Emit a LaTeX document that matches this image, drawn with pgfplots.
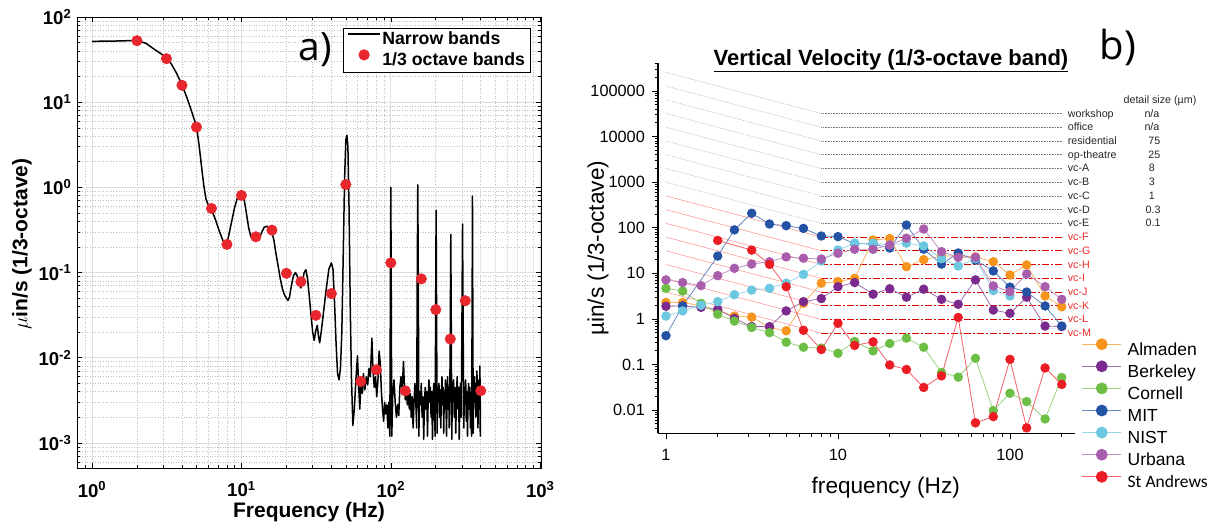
\documentclass[border=0pt]{standalone}
\usepackage{fontspec}
\setmainfont{Liberation Sans}
\newfontfamily\opensans{Open Sans}
\newfontfamily\carlito{Carlito}
\usepackage{pgfplots}
\pgfplotsset{compat=1.18}
\definecolor{cAlm}{HTML}{F7941D}
\definecolor{cBer}{HTML}{7B2A8E}
\definecolor{cCor}{HTML}{6DBE45}
\definecolor{cMIT}{HTML}{2452A5}
\definecolor{cNIS}{HTML}{6CC7E0}
\definecolor{cUrb}{HTML}{A95DAD}
\definecolor{cStA}{HTML}{EC1C24}
\definecolor{dotred}{HTML}{E8262D}
\definecolor{lblred}{HTML}{EE2A2A}
\newcommand{\fs}[1]{\fontsize{#1}{#1}\selectfont}
\pgfplotsset{
  gcrit/.style={forget plot, line width=0.6pt, densely dotted, black!35},
  gflat/.style={forget plot, line width=0.6pt, densely dotted, black!55},
  rcrit/.style={forget plot, line width=0.5pt, red!45},
  rflat/.style={forget plot, line width=0.7pt, red!85!black, dash pattern=on 7pt off 2pt on 2pt off 2pt},
  ser/.style={line width=0.8pt, draw=#1!70, mark=*, mark size=4.3pt, mark options={draw=#1, fill=#1, solid}},
}
\pgfplotstableread{
f v
2 52.7
3.15 32.4
4 15.8
5 5.1
6.3 0.566
8 0.214
10 0.805
12.5 0.263
16 0.315
20 0.098
25 0.078
31.5 0.0315
40 0.0566
50 1.08
63 0.00527
80 0.00722
100 0.130
125 0.00409
160 0.0843
200 0.0367
250 0.0166
315 0.0467
400 0.0041
}\thirdoct
\pgfplotstableread{
f v
1 51.8
1.2 52.0
1.5 52.3
1.8 52.8
2 53
2.3 49
2.6 42
2.9 37
3.15 33
3.4 28
3.7 21.5
4 16
4.3 11.5
4.6 8.2
5 5.2
5.2 3.2
5.4 1.8
5.6 1.05
5.8 0.72
6.05 0.6
6.3 0.55
6.7 0.42
7.1 0.31
7.5 0.24
7.8 0.21
8.1 0.24
8.5 0.36
9 0.58
9.5 0.8
9.9 0.9
10.3 0.82
10.7 0.55
11.2 0.33
11.6 0.26
12.0 0.245
12.5 0.255
13.0 0.24
13.6 0.29
14.2 0.34
14.8 0.35
15.4 0.33
16 0.30
16.5 0.24
17.0 0.17
17.6 0.12
18.2 0.085
18.8 0.065
19.4 0.055
20 0.05
20.5 0.047
21 0.052
21.6 0.07
22.3 0.092
23 0.1
23.7 0.09
24.4 0.072
25 0.066
25.6 0.078
26.3 0.1
27 0.108
27.7 0.085
28.4 0.055
29.2 0.032
30 0.02
30.7 0.016
31.5 0.021
32.2 0.024
32.8 0.018
33.4 0.015
34.2 0.02
35.5 0.035
37 0.065
38.5 0.11
40 0.13
41 0.11
42 0.045
43 0.015
44 0.0065
45 0.0055
46 0.0075
47 0.02
48 0.15
49 1.2
50 3.6
50.8 4.1
51.6 3.0
52.5 0.6
53.5 0.04
54.5 0.006
55.7 0.0016
57 0.0025
58.2 0.005
59.8 0.0105
61 0.0045
62 0.0025
63 0.0050
64.5 0.0038
65.5 0.0065
67 0.0042
68.5 0.0060
70 0.0048
71.5 0.0075
73 0.0060
74.7 0.0170
76 0.0070
77.5 0.0045
79 0.0060
80.5 0.0035
82 0.0055
83.5 0.0120
85 0.0085
86.5 0.0040
88 0.0025
89.5 0.0018
91 0.0030
92.5 0.0022
94 0.0028
95.5 0.0015
97 0.0030
98.5 0.0012
99.3 0.05
100 1.0
100.7 0.05
101.5 0.0012
103 0.0035
105 0.0055
107 0.0030
109 0.0020
111 0.0028
113 0.0021
115 0.0045
117 0.0060
119 0.0040
121.6 0.0090
123 0.0050
125 0.0032
127 0.0045
129 0.0028
131 0.0040
133 0.0025
135 0.0038
137 0.0020
139 0.0035
141 0.0015
143 0.0030
145 0.0050
147 0.0030
149 0.0015
150 0.05
151.5 1.07
153 0.05
154 0.0012
156 0.0040
158 0.0028
160 0.0050
162 0.0020
164 0.0035
166 0.0011
168 0.0030
170 0.0045
172 0.0025
174 0.0040
176 0.0012
178 0.0035
180 0.0055
182 0.0030
184 0.0045
186 0.0020
188 0.0040
190 0.0011
192 0.0035
194 0.0050
196 0.0025
198 0.0012
199.5 0.03
201 0.54
202.5 0.03
204 0.0013
206 0.0045
208 0.0030
210 0.0050
212 0.0020
214 0.0042
216 0.0015
218 0.0038
220 0.0060
222 0.0028
224 0.0045
226 0.0013
228 0.0040
230 0.0025
232 0.0055
234 0.0030
236 0.0012
238 0.0040
240 0.0060
242 0.0025
244 0.0045
246 0.0015
248 0.0030
250 0.02
252 0.28
254 0.02
256 0.0011
258 0.0040
260 0.0030
263 0.0055
266 0.0020
269 0.0045
272 0.0013
275 0.0035
278 0.0060
281 0.0025
284 0.0045
287 0.0011
290 0.0035
293 0.0050
296 0.0020
299 0.02
302 0.37
305 0.02
308 0.0015
311 0.0045
314 0.0028
317 0.0055
320 0.0018
323 0.0040
326 0.0012
329 0.0035
332 0.0050
335 0.0025
338 0.0045
341 0.0015
344 0.0035
347 0.0012
350 0.03
352 0.79
354 0.03
356 0.0013
359 0.0040
362 0.0060
365 0.0030
368 0.0050
371 0.0020
374 0.0045
377 0.0070
380 0.0035
383 0.0015
386 0.0040
389 0.0055
392 0.0025
395 0.0080
397 0.0012
398 0.0030
}\narrow
\begin{document}
\begin{tikzpicture}
\path[use as bounding box] (0pt,0pt) rectangle (1219pt,529pt);
%%%%%%%%%%%%%%%% panel a
\begin{axis}[
  at={(77pt,61pt)}, anchor=south west,
  scale only axis, width=464pt, height=451pt,
  xmode=log, ymode=log,
  xmin=0.7934, xmax=1012, ymin=5.08e-4, ymax=100,
  axis line style={line width=0.8pt},
  xtick={1,10,100,1000},
  xticklabels={10\textsuperscript{0},10\textsuperscript{1},10\textsuperscript{2},10\textsuperscript{3}},
  ytick={0.001,0.01,0.1,1,10,100},
  yticklabels={10\textsuperscript{-3},10\textsuperscript{-2},10\textsuperscript{-1},10\textsuperscript{0},10\textsuperscript{1},10\textsuperscript{2}},
  minor xtick={0.8,0.9,2,3,4,5,6,7,8,9,20,30,40,50,60,70,80,90,200,300,400,500,600,700,800,900},
  minor ytick={0.0006,0.0007,0.0008,0.0009,0.002,0.003,0.004,0.005,0.006,0.007,0.008,0.009,0.02,0.03,0.04,0.05,0.06,0.07,0.08,0.09,0.2,0.3,0.4,0.5,0.6,0.7,0.8,0.9,2,3,4,5,6,7,8,9,20,30,40,50,60,70,80,90},
  tick align=inside,
  major tick length=5pt, minor tick length=3pt,
  every tick/.append style={black, line width=0.6pt},
  grid=both,
  major grid style={line width=0.7pt, black!13},
  minor grid style={line width=0.6pt, black!25, dotted},
  ticklabel style={font=\bfseries\fs{18.6}},
  xticklabel style={inner sep=0pt, yshift=-13.5pt},
  yticklabel style={inner sep=0pt, xshift=-5.5pt},
  xlabel={Frequency (Hz)},
  ylabel={$\mu$in/s (1/3-octave)},
  label style={font=\bfseries\fs{21}},
  xlabel style={at={(axis description cs:0.5,-0.0969)}, anchor=center},
  ylabel style={at={(axis description cs:-0.1185,0.4967)}, anchor=center},
  legend style={at={(axis description cs:0.978,0.9756)}, anchor=north east, draw=black, line width=0.6pt, fill=white, font=\bfseries\fs{17.7}, inner xsep=4pt, inner ysep=2pt, row sep=0pt, nodes={inner sep=1.5pt, text height=12.8pt, text depth=3.5pt}},
  legend cell align=left,
  legend image code/.code={\draw[mark repeat=2,mark phase=2,#1] plot coordinates {(0pt,6pt) (16pt,6pt) (32pt,6pt)};},
]
\addplot[black, line width=1.5pt, line join=round] table[x=f,y=v] {\narrow};
\addlegendentry{Narrow bands}
\addplot[only marks, mark=*, mark size=5.3pt, color=dotred] table[x=f,y=v] {\thirdoct};
\addlegendentry{1/3 octave bands}
\end{axis}
\node[font=\opensans\fs{39}] at (315pt,479pt) {a)};
%%%%%%%%%%%%%%%% panel b
\begin{axis}[
  at={(658pt,95.7pt)}, anchor=south west,
  scale only axis, width=417pt, height=370pt,
  xmode=log, ymode=log,
  xmin=0.899, xmax=238.8, ymin=0.00311, ymax=4.05e5,
  axis lines=left,
  axis line style={line width=1.2pt, -},
  tick align=outside,
  xtick={1,10,100}, xticklabels={1,10,100},
  ytick={0.01,0.1,1,10,100,1000,10000,100000},
  yticklabels={0.01,0.1,1,10,100,1000,10000,100000},
  minor xtick={2,3,4,5,6,7,8,9,20,30,40,50,60,70,80,90,200},
  minor ytick={0.004,0.005,0.006,0.007,0.008,0.009,0.02,0.03,0.04,0.05,0.06,0.07,0.08,0.09,0.2,0.3,0.4,0.5,0.6,0.7,0.8,0.9,2,3,4,5,6,7,8,9,20,30,40,50,60,70,80,90,200,300,400,500,600,700,800,900,2000,3000,4000,5000,6000,7000,8000,9000,20000,30000,40000,50000,60000,70000,80000,90000,200000,300000,400000},
  major tick length=6pt, minor tick length=3.5pt,
  every tick/.append style={black, line width=0.8pt},
  ticklabel style={font=\fs{16.3}},
  xticklabel style={inner sep=0pt, yshift=-10pt},
  yticklabel style={inner sep=0pt, xshift=-7pt},
  clip=false,
  xlabel={frequency (Hz)},
  ylabel={µin/s (1/3-octave)},
  label style={font=\fs{22.6}},
  xlabel style={at={(axis description cs:0.5463,-0.1478)}, anchor=center},
  ylabel style={at={(axis description cs:-0.1439,0.5)}, anchor=center},
  legend style={at={(axis description cs:1.016,0.2562)}, anchor=north west, draw=none, fill=none, font=\fs{17.5}, inner sep=0pt, row sep=2.1pt, nodes={inner sep=0pt, text height=12.5pt, text depth=3.5pt}, /tikz/every odd column/.append style={column sep=6pt}},
  legend cell align=left,
  legend image code/.code={\draw[mark repeat=2,mark phase=2,#1] plot coordinates {(0pt,6.5pt) (19.5pt,6.5pt) (39pt,6.5pt)};},
  legend image post style={mark size=5.5pt},
]
% criterion curves (grey)
\addplot[gcrit] coordinates {(1,256000) (8,32000)};
\addplot[gflat] coordinates {(8,32000) (203,32000)};
\addplot[gcrit] coordinates {(1,128000) (8,16000)};
\addplot[gflat] coordinates {(8,16000) (203,16000)};
\addplot[gcrit] coordinates {(1,64000) (8,8000)};
\addplot[gflat] coordinates {(8,8000) (203,8000)};
\addplot[gcrit] coordinates {(1,32000) (8,4000)};
\addplot[gflat] coordinates {(8,4000) (203,4000)};
\addplot[gcrit] coordinates {(1,16000) (8,2000)};
\addplot[gflat] coordinates {(8,2000) (203,2000)};
\addplot[gcrit] coordinates {(1,8000) (8,1000)};
\addplot[gflat] coordinates {(8,1000) (203,1000)};
\addplot[gcrit] coordinates {(1,4000) (8,500)};
\addplot[gflat] coordinates {(8,500) (203,500)};
\addplot[gcrit] coordinates {(1,2000) (8,250)};
\addplot[gflat] coordinates {(8,250) (203,250)};
\addplot[gcrit] coordinates {(1,1000) (8,125)};
\addplot[gflat] coordinates {(8,125) (203,125)};
% criterion curves (red)
\addplot[rcrit] coordinates {(1,500) (8,62.5)};
\addplot[rflat] coordinates {(8,62.5) (203,62.5)};
\addplot[rcrit] coordinates {(1,250) (8,31.25)};
\addplot[rflat] coordinates {(8,31.25) (203,31.25)};
\addplot[rcrit] coordinates {(1,125) (8,15.625)};
\addplot[rflat] coordinates {(8,15.625) (203,15.625)};
\addplot[rcrit] coordinates {(1,62.5) (8,7.8125)};
\addplot[rflat] coordinates {(8,7.8125) (203,7.8125)};
\addplot[rcrit] coordinates {(1,31.25) (8,3.906)};
\addplot[rflat] coordinates {(8,3.906) (203,3.906)};
\addplot[rcrit] coordinates {(1,15.625) (8,1.953)};
\addplot[rflat] coordinates {(8,1.953) (203,1.953)};
\addplot[rcrit] coordinates {(1,7.8125) (8,0.9766)};
\addplot[rflat] coordinates {(8,0.9766) (203,0.9766)};
\addplot[rcrit] coordinates {(1,3.906) (8,0.4883)};
\addplot[rflat] coordinates {(8,0.4883) (203,0.4883)};
% data
\addplot[ser=cAlm] coordinates {(1,2.3)(1.25,2.3)(1.6,1.95)(2,1.55)(2.5,1.16)(3.15,1.1)(4,0.65)(5,0.55)(6.3,2.2)(8,6.1)(10,6.6)(12.5,7.8)(16,54)(20,58)(25,14)(31.5,20)(40,24)(50,24)(63,23)(80,18)(100,9.2)(125,15.3)(160,3.2)(200,1.85)};
\addlegendentry{Almaden}
\addplot[ser=cBer] coordinates {(1,1.9)(1.25,1.93)(1.6,1.8)(2,1.63)(2.5,1.03)(3.15,0.68)(4,0.68)(5,1.5)(6.3,2.4)(8,2.8)(10,5.1)(12.5,6.3)(16,3.5)(20,4.6)(25,3.0)(31.5,4.5)(40,2.7)(50,2.1)(63,7.2)(80,1.57)(100,1.33)(125,3.0)(160,0.70)(200,0.68)};
\addlegendentry{Berkeley}
\addplot[ser=cCor] coordinates {(1,4.7)(1.25,4.1)(1.6,2.2)(2,1.27)(2.5,0.9)(3.15,0.65)(4,0.5)(5,0.31)(6.3,0.24)(8,0.23)(10,0.177)(12.5,0.32)(16,0.2)(20,0.29)(25,0.38)(31.5,0.24)(40,0.067)(50,0.053)(63,0.137)(80,0.0098)(100,0.0235)(125,0.0154)(160,0.0064)(200,0.052)};
\addlegendentry{Cornell}
\addplot[ser=cMIT] coordinates {(1,0.43)(1.25,1.93)(2,24)(2.5,90)(3.15,208)(4,121)(5,111)(6.3,97)(8,66)(10,64)(12.5,45)(16,44)(20,36)(25,115)(31.5,34)(40,16)(50,28)(63,19.6)(80,11.3)(100,5.0)(125,3.9)(160,1.93)(200,0.70)};
\addlegendentry{MIT}
\addplot[ser=cNIS] coordinates {(1,1.16)(1.25,1.5)(1.6,2.0)(2,2.4)(2.5,3.4)(3.15,4.3)(4,4.7)(5,6.1)(6.3,9.5)(8,18.7)(10,32.6)(12.5,46)(16,46)(20,42)(25,46)(31.5,40)(40,21)(50,14.5)(63,21)(80,4.2)(100,3.2)};
\addlegendentry{NIST}
\addplot[ser=cUrb] coordinates {(1,7.2)(1.25,6.3)(1.6,5.4)(2,8.9)(2.5,12.9)(3.15,16)(4,18)(5,23)(6.3,21.5)(8,20.7)(10,27.6)(12.5,33.8)(16,33.8)(20,42)(25,59)(31.5,94)(40,30)(50,22.5)(63,22.5)(80,5.3)(100,4.0)(125,9.7)(160,5.1)(200,2.7)};
\addlegendentry{Urbana}
\addplot[ser=cStA] coordinates {(2,52.7)(3.15,32.4)(4,15.8)(5,5.1)(6.3,0.566)(8,0.214)(10,0.805)(12.5,0.263)(16,0.315)(20,0.098)(25,0.078)(31.5,0.0315)(40,0.0566)(50,1.08)(63,0.00527)(80,0.00722)(100,0.130)(125,0.00409)(160,0.0843)(200,0.0367)};
\addlegendentry{{\carlito St Andrews}}
% criterion labels
\begin{scope}[every node/.style={font=\fs{10.7}, inner sep=0pt, text=black!85}]
\node[anchor=base west, yshift=-3.5pt] at (axis cs:216.5,32000) {workshop};
\node[anchor=base west, yshift=-3.5pt] at (axis cs:216.5,16000) {office};
\node[anchor=base west, yshift=-3.5pt] at (axis cs:216.5,8000) {residential};
\node[anchor=base west, yshift=-3.5pt] at (axis cs:216.5,4000) {op-theatre};
\node[anchor=base west, yshift=-3.5pt] at (axis cs:216.5,2000) {vc-A};
\node[anchor=base west, yshift=-3.5pt] at (axis cs:216.5,1000) {vc-B};
\node[anchor=base west, yshift=-3.5pt] at (axis cs:216.5,500) {vc-C};
\node[anchor=base west, yshift=-3.5pt] at (axis cs:216.5,250) {vc-D};
\node[anchor=base west, yshift=-3.5pt] at (axis cs:216.5,125) {vc-E};
\node[anchor=base, yshift=-3.5pt] at (axis cs:669,32000) {n/a};
\node[anchor=base, yshift=-3.5pt] at (axis cs:669,16000) {n/a};
\node[anchor=base, yshift=-3.5pt] at (axis cs:690,8000) {75};
\node[anchor=base, yshift=-3.5pt] at (axis cs:690,4000) {25};
\node[anchor=base, yshift=-3.5pt] at (axis cs:669,2000) {8};
\node[anchor=base, yshift=-3.5pt] at (axis cs:669,1000) {3};
\node[anchor=base, yshift=-3.5pt] at (axis cs:669,500) {1};
\node[anchor=base, yshift=-3.5pt] at (axis cs:680,250) {0.3};
\node[anchor=base, yshift=-3.5pt] at (axis cs:680,125) {0.1};
\node[anchor=base, yshift=-3.8pt] at (axis cs:745,63500) {detail size (µm)};
\end{scope}
\begin{scope}[every node/.style={font=\fs{10.7}, inner sep=0pt, text=lblred}]
\node[anchor=base west, yshift=-3.5pt] at (axis cs:216.5,62.5) {vc-F};
\node[anchor=base west, yshift=-3.5pt] at (axis cs:216.5,31.25) {vc-G};
\node[anchor=base west, yshift=-3.5pt] at (axis cs:216.5,15.625) {vc-H};
\node[anchor=base west, yshift=-3.5pt] at (axis cs:216.5,7.8125) {vc-I};
\node[anchor=base west, yshift=-3.5pt] at (axis cs:216.5,3.906) {vc-J};
\node[anchor=base west, yshift=-3.5pt] at (axis cs:216.5,1.953) {vc-K};
\node[anchor=base west, yshift=-3.5pt] at (axis cs:216.5,0.9766) {vc-L};
\node[anchor=base west, yshift=-3.5pt] at (axis cs:216.5,0.4883) {vc-M};
\end{scope}
\node[font=\bfseries\fs{22}] at (axis description cs:0.5588,1.0068) {\underline{Vertical Velocity (1/3-octave band)}};
\end{axis}
\node[font=\opensans\fs{40}] at (1118pt,482pt) {b)};
\end{tikzpicture}
\end{document}
